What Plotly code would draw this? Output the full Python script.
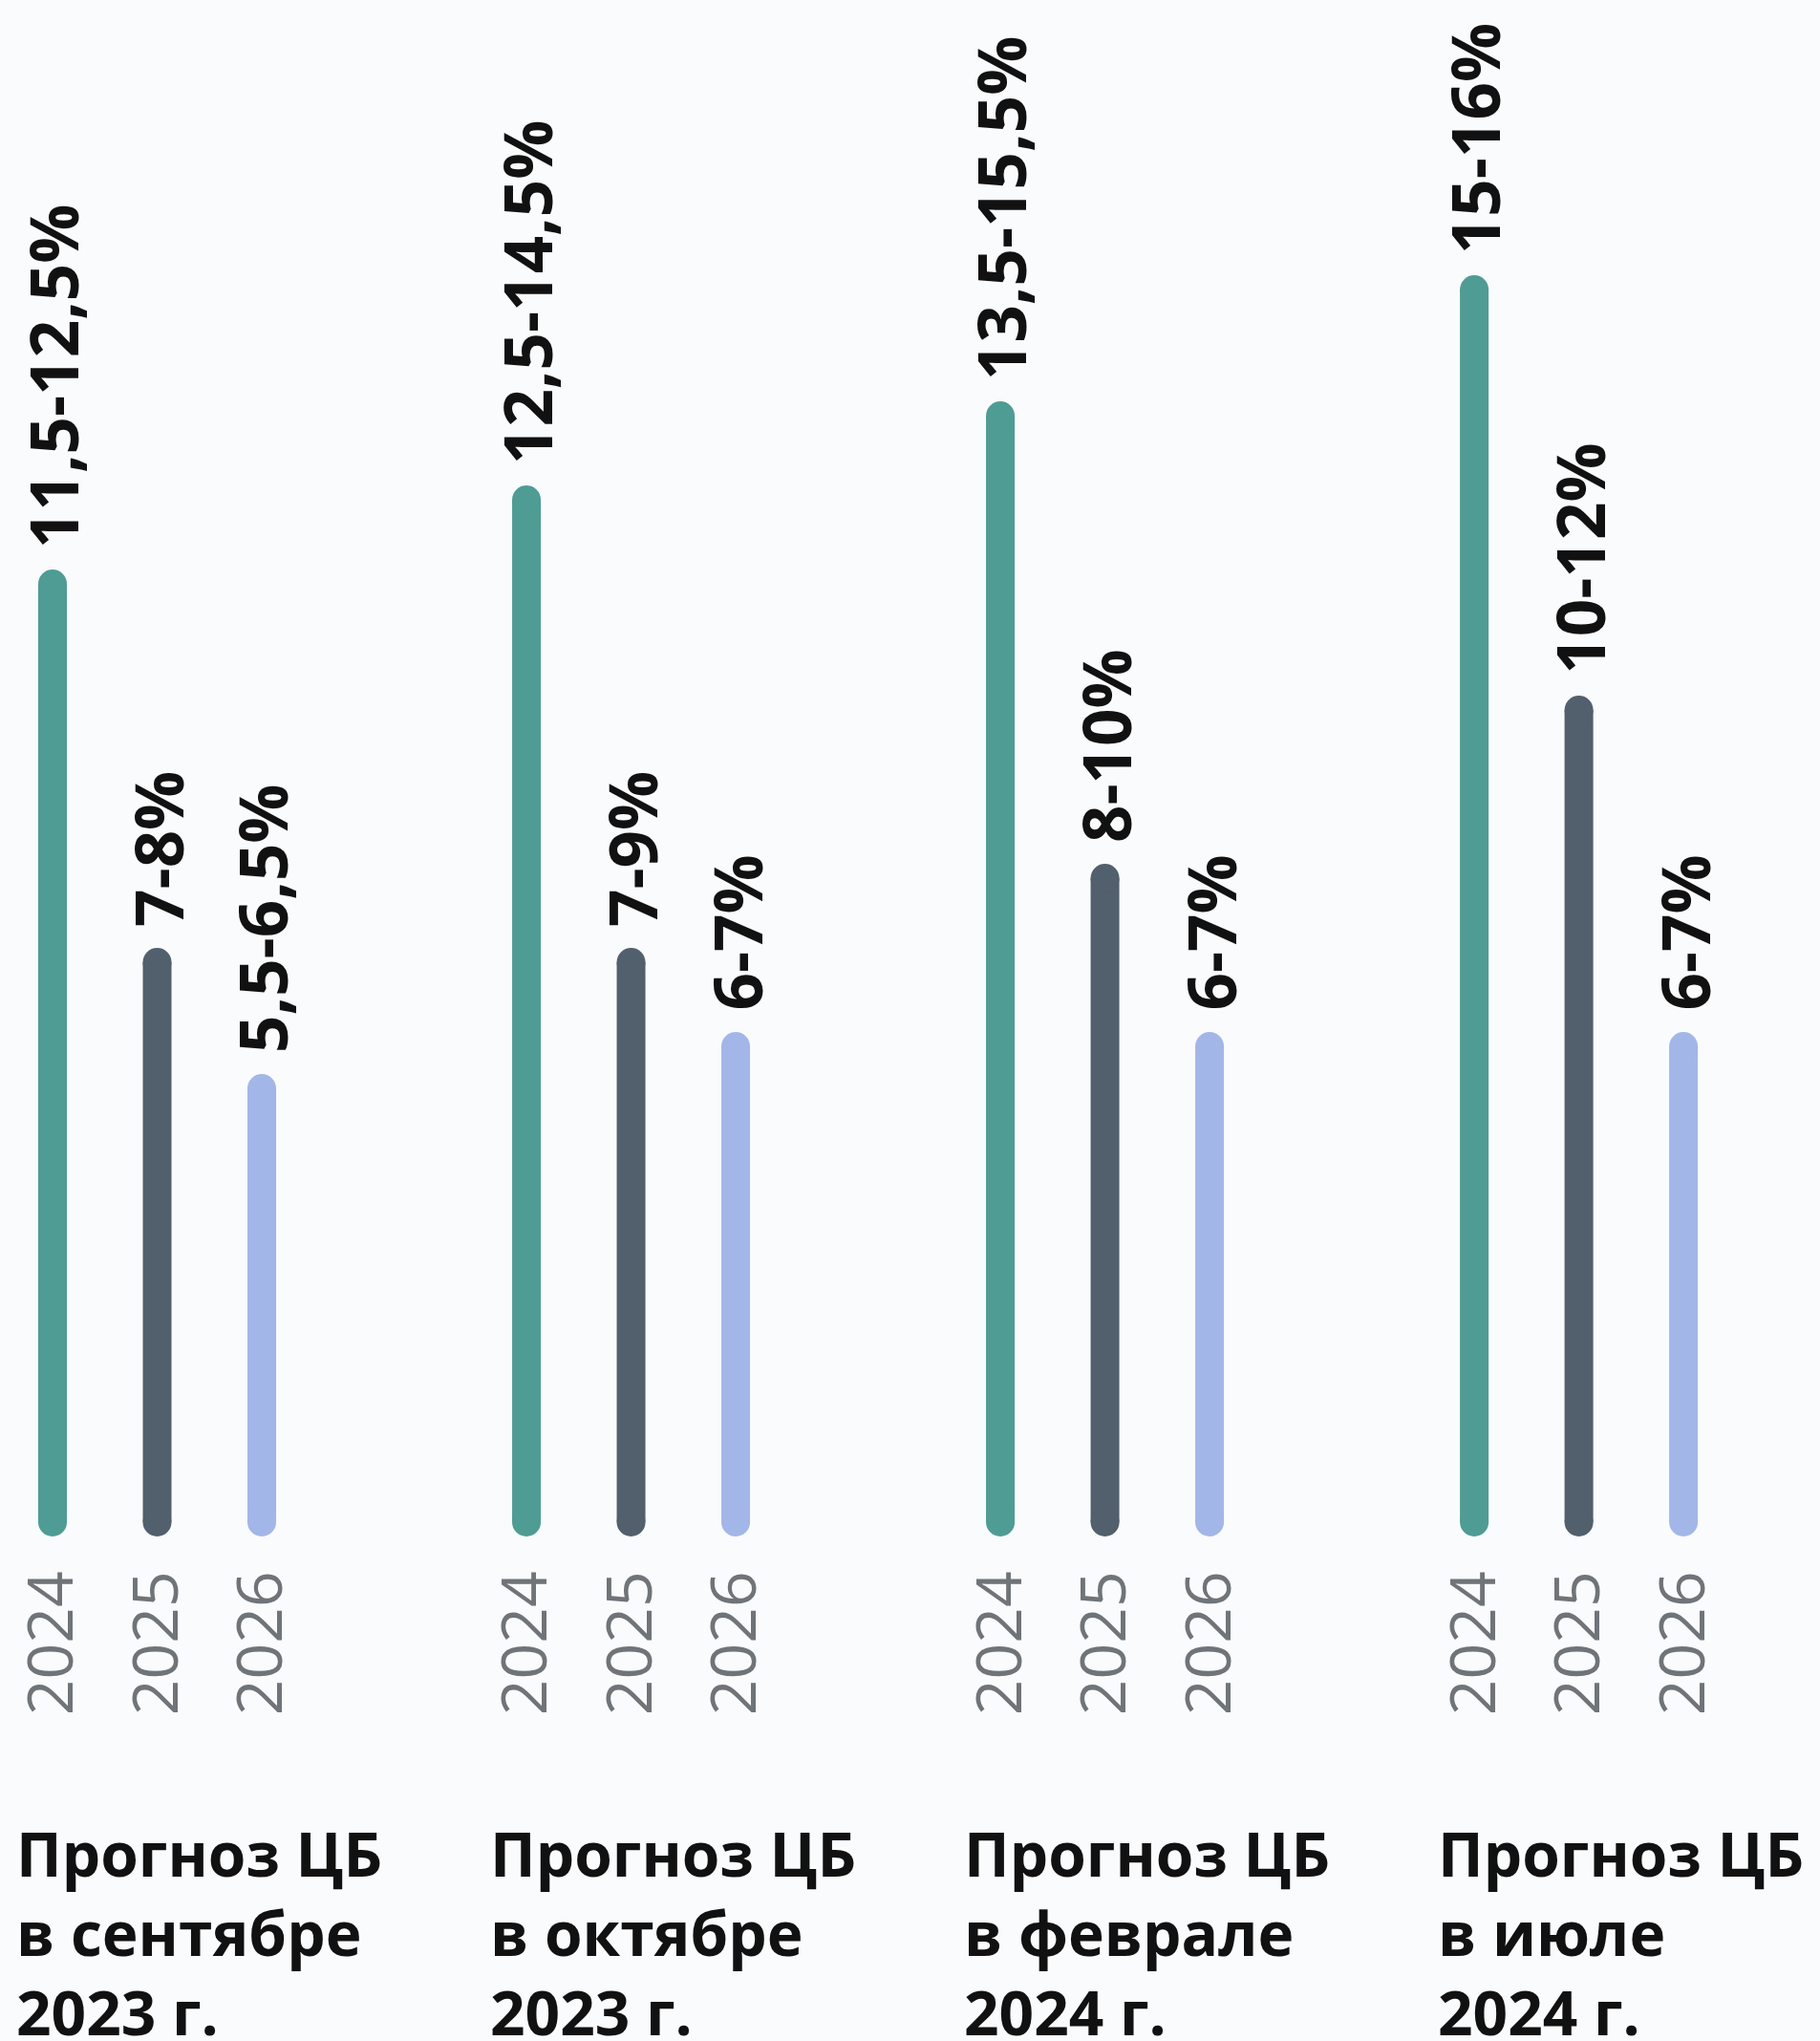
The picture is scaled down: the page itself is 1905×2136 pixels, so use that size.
import plotly.graph_objects as go

# ---- data ----
group_titles = [
    "Прогноз ЦБ<br>в сентябре<br>2023 г.",
    "Прогноз ЦБ<br>в октябре<br>2023 г.",
    "Прогноз ЦБ<br>в феврале<br>2024 г.",
    "Прогноз ЦБ<br>в июле<br>2024 г.",
]
years = ["2024", "2025", "2026"]
low_2024 = [11.5, 12.5, 13.5, 15.0]
low_2025 = [7.0, 7.0, 8.0, 10.0]
low_2026 = [5.5, 6.0, 6.0, 6.0]
labels_2024 = ["11,5-12,5%", "12,5-14,5%", "13,5-15,5%", "15-16%"]
labels_2025 = ["7-8%", "7-9%", "8-10%", "10-12%"]
labels_2026 = ["5,5-6,5%", "6-7%", "6-7%", "6-7%"]
colors = ["#4f9c94", "#525f6c", "#a3b6e8"]

series_values = [low_2024, low_2025, low_2026]
series_labels = [labels_2024, labels_2025, labels_2026]

# ---- layout constants ----
W, H = 1905, 2136
PLOT_BOTTOM = 1620          # pixel of plot-area bottom
PX_PER_UNIT_Y = 88.0
ZERO_PX = 1608
GROUP_STEP = 4.53           # in bar-step units
PX_PER_UNIT_X = 109.5
FIRST_PX = 55
LINE_W = 30
cap = (LINE_W / 2) / PX_PER_UNIT_Y

y_lo = -(PLOT_BOTTOM - ZERO_PX) / PX_PER_UNIT_Y
y_hi = ZERO_PX / PX_PER_UNIT_Y
x_lo = -FIRST_PX / PX_PER_UNIT_X
x_hi = (W - FIRST_PX) / PX_PER_UNIT_X

fig = go.Figure()

tickvals, ticktext = [], []
annotations = []
for i, (yr, vals, labs, col) in enumerate(zip(years, series_values, series_labels, colors)):
    xs, ys = [], []
    for g, (v, lab) in enumerate(zip(vals, labs)):
        xp = g * GROUP_STEP + i
        xs += [xp, xp, None]
        ys += [cap, v - cap, None]
        tickvals.append(xp)
        ticktext.append(yr)
        annotations.append(dict(
            x=xp, y=v, xref="x", yref="y", text=lab, showarrow=False,
            textangle=-90, xanchor="center", yanchor="bottom", yshift=20,
            font=dict(family="Open Sans", size=69, color="#111111", weight="bold"),
        ))
    fig.add_trace(go.Scatter(
        x=xs, y=ys, mode="lines+markers", name=yr,
        line=dict(color=col, width=LINE_W),
        marker=dict(color=col, size=LINE_W, line=dict(width=0)),
        hoverinfo="skip", showlegend=False,
    ))

for g, t in enumerate(group_titles):
    annotations.append(dict(
        x=g * GROUP_STEP, xref="x", xshift=-40, xanchor="left", align="left",
        y=(PLOT_BOTTOM - 1894) / PLOT_BOTTOM, yref="paper", yanchor="top",
        text=t, showarrow=False,
        font=dict(family="Open Sans", size=64, color="#111111", weight="bold"),
    ))

fig.update_layout(
    width=W, height=H,
    margin=dict(l=0, r=0, t=0, b=H - PLOT_BOTTOM, pad=0),
    paper_bgcolor="#fafbfd", plot_bgcolor="#fafbfd",
    xaxis=dict(range=[x_lo, x_hi], tickvals=tickvals, ticktext=ticktext,
               tickangle=-90, ticks="", showgrid=False, zeroline=False,
               showline=False, ticklabelstandoff=10,
               tickfont=dict(family="Open Sans", size=66, color="#6f7479")),
    yaxis=dict(range=[y_lo, y_hi], visible=False, showgrid=False, zeroline=False),
    annotations=annotations,
)

fig.write_html("out.html")
